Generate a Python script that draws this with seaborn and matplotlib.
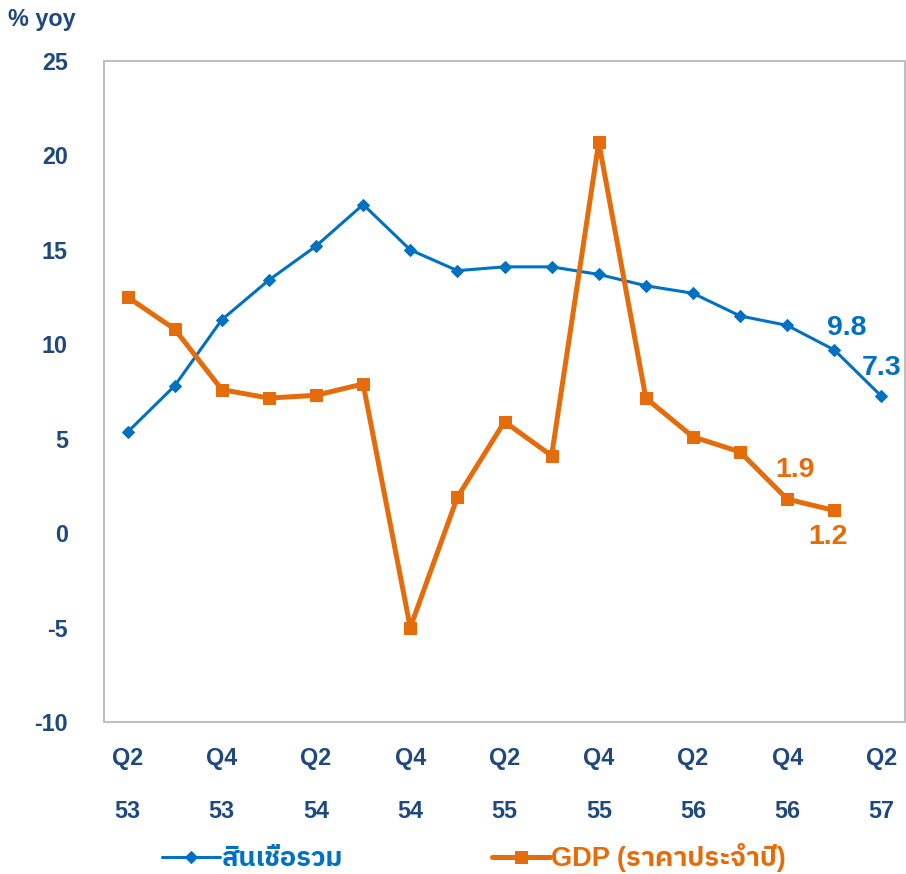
import matplotlib
matplotlib.use("Agg")
import matplotlib.pyplot as plt
from matplotlib import font_manager
from matplotlib.ft2font import FT2Font
import seaborn as sns
import pandas as pd

# quarters Q2/53 .. Q2/57
quarters = ["Q2\n53", "Q3\n53", "Q4\n53", "Q1\n54", "Q2\n54", "Q3\n54", "Q4\n54", "Q1\n55",
            "Q2\n55", "Q3\n55", "Q4\n55", "Q1\n56", "Q2\n56", "Q3\n56", "Q4\n56", "Q1\n57", "Q2\n57"]
credit = [5.35, 7.8, 11.3, 13.4, 15.2, 17.4, 15.0, 13.9, 14.1, 14.1, 13.7, 13.1, 12.7, 11.5, 11.0, 9.7, 7.25]
gdp = [12.5, 10.8, 7.6, 7.15, 7.3, 7.9, -5.0, 1.9, 5.9, 4.1, 20.7, 7.15, 5.1, 4.3, 1.8, 1.2]
credit_name = "สินเชื่อรวม"
gdp_name = "GDP (ราคาประจำปี)"

BLUE = "#0070C0"
ORANGE = "#E46C0A"
NAVY = "#1F497D"
GRID = "#BFBFBF"

sns.set_style("white")

# find a font that has Thai glyphs
thai = None
for f in font_manager.fontManager.ttflist:
    try:
        if 0x0E2A in FT2Font(f.fname).get_charmap():
            thai = f.name
            if "Sans" in f.name:
                break
    except Exception:
        pass
fams = ["Liberation Sans", "DejaVu Sans"]
if thai:
    fams = ["Liberation Sans", thai, "DejaVu Sans"]
plt.rcParams["font.family"] = fams
plt.rcParams["font.weight"] = "bold"

df_c = pd.DataFrame({"x": range(len(credit)), "v": credit})
df_g = pd.DataFrame({"x": range(len(gdp)), "v": gdp})

fig = plt.figure(figsize=(9.06, 8.74), dpi=100)
ax = fig.add_axes([104 / 906, 1 - 722 / 874, 801 / 906, 661 / 874])

sns.lineplot(data=df_c, x="x", y="v", ax=ax, color=BLUE, lw=2.2, marker="D", ms=6.5,
             markeredgecolor=BLUE, label=credit_name, sort=False)
sns.lineplot(data=df_g, x="x", y="v", ax=ax, color=ORANGE, lw=3.6, marker="s", ms=8.5,
             markeredgecolor=ORANGE, label=gdp_name, sort=False)

fs = 16.8
ax.set_xlim(-0.5, len(quarters) - 0.5)
ax.set_ylim(-10, 25)
ax.set_yticks(range(-10, 26, 5))
ax.set_yticklabels([str(v) for v in range(-10, 26, 5)], fontsize=fs, color=NAVY, fontweight="bold")
ax.set_xticks(range(0, len(quarters), 2))
ax.set_xticklabels(quarters[::2], fontsize=fs, color=NAVY, fontweight="bold", linespacing=2.65)
ax.set_xticks([i - 0.5 for i in range(len(quarters) + 1)], minor=True)
ax.tick_params(axis="x", which="major", length=0, pad=18)
ax.tick_params(axis="x", which="minor", length=9, width=1.5, color=GRID, direction="out")
ax.tick_params(axis="y", length=8, width=1.5, color=GRID, direction="out", pad=18)
ax.set_xlabel("")
ax.set_ylabel("")
for s in ax.spines.values():
    s.set_color(GRID)
    s.set_linewidth(1.5)

fig.text(0.009, 0.978, "% yoy", fontsize=fs, color=NAVY, fontweight="bold", va="center")

lab = dict(fontsize=20.5, fontweight="bold", ha="center", va="center",
           textcoords="offset pixels", annotation_clip=False)
ax.annotate("9.8", xy=(15, credit[15]), xytext=(12, 22), color=BLUE, **lab)
ax.annotate("7.3", xy=(16, credit[16]), xytext=(0, 28), color=BLUE, **lab)
ax.annotate("1.9", xy=(14, gdp[14]), xytext=(8, 29), color=ORANGE, **lab)
ax.annotate("1.2", xy=(15, gdp[15]), xytext=(-6, -27), color=ORANGE, **lab)

h, l = ax.get_legend_handles_labels()
ax.legend_.remove()
leg = fig.legend(h, l, loc="center", bbox_to_anchor=(0.523, 1 - 858 / 874), ncol=2, frameon=False,
                 fontsize=19.5, handlelength=2.15, handletextpad=0.05, columnspacing=5.5)
for t, c in zip(leg.get_texts(), [BLUE, ORANGE]):
    t.set_color(c)
    t.set_fontweight("bold")

fig.savefig("out.png", dpi=100)
